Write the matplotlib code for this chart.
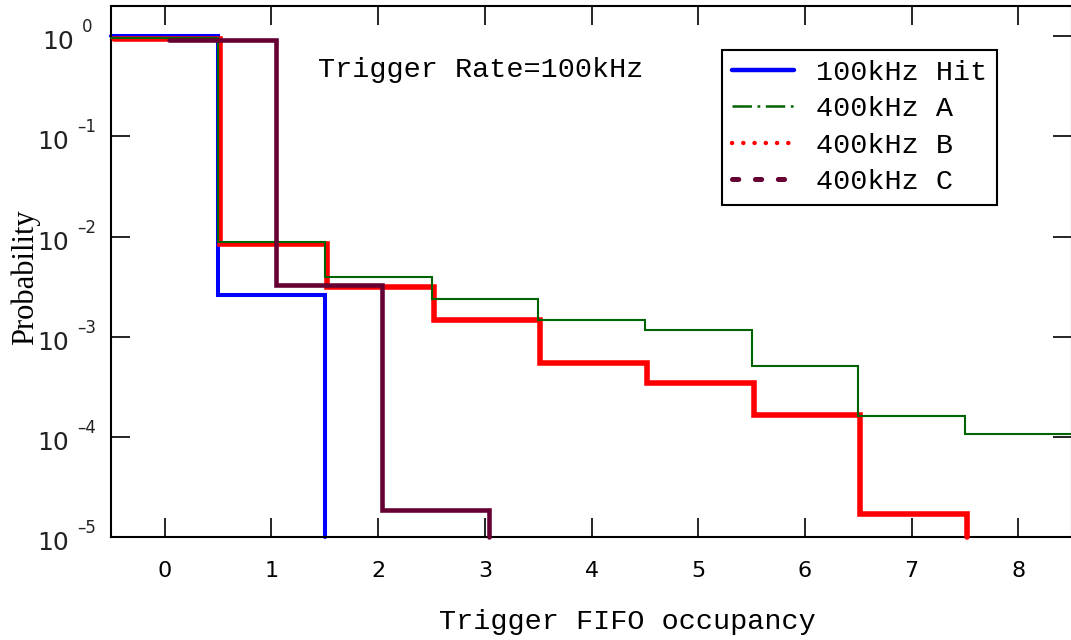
import numpy as np
import matplotlib
matplotlib.use("Agg")
import matplotlib.pyplot as plt
from matplotlib.lines import Line2D
from matplotlib.ticker import FixedLocator, NullLocator

plt.rcParams['lines.scale_dashes'] = False

# ---- data ----
occupancy = [0, 1, 2, 3, 4, 5, 6, 7, 8]
hit_100k = [1.0, 2.6e-3]
rate_400k_a = [0.96, 8.9e-3, 3.9e-3, 2.36e-3, 1.46e-3, 1.17e-3, 5.1e-4, 1.6e-4, 1.08e-4]
rate_400k_b = [0.93, 8.4e-3, 3.1e-3, 1.48e-3, 5.4e-4, 3.46e-4, 1.67e-4, 1.68e-5]
rate_400k_c = [0.92, 3.3e-3, 1.84e-5]
floor_value = 1e-5
labels = ["100kHz Hit", "400kHz A", "400kHz B", "400kHz C"]
ytick_exps = [0, -1, -2, -3, -4, -5]

fig = plt.figure(figsize=(10.71, 6.40), dpi=100)
ax = fig.add_axes([0.1041, 0.1609, 0.8964, 0.8297])
ax.set_yscale('log')


def draw_steps(vals, color, lw, shift=0.0, start=-0.5, drop=True, z=2):
    edges = np.arange(len(vals) + 1) + start + shift
    ys = list(vals) + ([floor_value] if drop else [vals[-1]])
    ax.step(edges, ys, where='post', color=color, lw=lw, zorder=z,
            solid_capstyle='round', solid_joinstyle='miter', clip_on=False)


draw_steps(hit_100k, '#0000ff', 2.9, z=2)
draw_steps(rate_400k_b, '#ff0000', 4.0, shift=0.02, z=3)
draw_steps(rate_400k_a, '#006400', 1.5, drop=False, z=4)
draw_steps(rate_400k_c, '#660033', 3.3, shift=0.04, start=0.0, z=5)

ax.set_xlim(-0.5, 8.5)
ax.set_ylim(1e-5, 2.0)

ax.xaxis.set_major_locator(FixedLocator(occupancy))
ax.yaxis.set_major_locator(FixedLocator([10.0 ** e for e in ytick_exps]))
ax.yaxis.set_minor_locator(NullLocator())

ax.tick_params(axis='both', which='major', direction='in', length=14, width=1.2,
               top=True, right=True, colors='black')
ax.tick_params(axis='x', labelsize=16, pad=17)
ax.tick_params(axis='y', labelleft=False)

for s in ax.spines.values():
    s.set_linewidth(1.5)

# y tick labels: "10" with a raised exponent, as in the reference
renderer = fig.canvas.get_renderer()
for e in ytick_exps:
    exp_text = ("\u2013%d" % -e) if e < 0 else "%d" % e
    t10 = ax.annotate("10", xy=(0, 10.0 ** e), xycoords=('axes fraction', 'data'),
                      xytext=(0, 6), textcoords='offset pixels',
                      ha='left', va='top', fontsize=18, annotation_clip=False,
                      color='#222222')
    tex = ax.annotate(exp_text, xy=(0, 10.0 ** e), xycoords=('axes fraction', 'data'),
                      xytext=(0, 4), textcoords='offset pixels',
                      ha='left', va='baseline', fontsize=12, annotation_clip=False,
                      color='#222222')
    w10 = t10.get_window_extent(renderer).width
    wex = tex.get_window_extent(renderer).width
    gap = 8
    left = -44.5 - (w10 + gap + wex) / 2.0
    t10.xyann = (left, 6)
    tex.xyann = (left + w10 + gap, 4)

ax.set_xlabel("Trigger FIFO occupancy", family='Liberation Mono', fontsize=20.5)
ax.xaxis.set_label_coords(0.537, -0.135)
ax.set_ylabel("Probability", family='Liberation Serif', fontsize=22)
ax.yaxis.set_label_coords(-0.0745, 0.49)

ax.text(0.215, 0.88, "Trigger Rate=100kHz", transform=ax.transAxes,
        family='Liberation Mono', fontsize=20.5, ha='left', va='center')

handles = [
    Line2D([], [], color='#0000ff', lw=3.2, solid_capstyle='round'),
    Line2D([], [], color='#006400', lw=1.8, linestyle=(0, (14, 4, 2, 4))),
    Line2D([], [], color='#ff0000', lw=3.2, linestyle=(0, (0.1, 8)),
           dash_capstyle='round'),
    Line2D([], [], color='#660033', lw=3.6, linestyle=(0, (4.5, 12)),
           dash_capstyle='round'),
]
leg = ax.legend(handles, labels, loc='upper left', bbox_to_anchor=(0.6358, 0.917),
                borderaxespad=0, prop={'family': 'Liberation Mono', 'size': 20.5},
                handlelength=2.2, handletextpad=0.75, labelspacing=0.36,
                borderpad=0.35, fancybox=False, framealpha=1, edgecolor='black')
leg.get_frame().set_linewidth(1.5)

fig.savefig("out.png", dpi=100)
